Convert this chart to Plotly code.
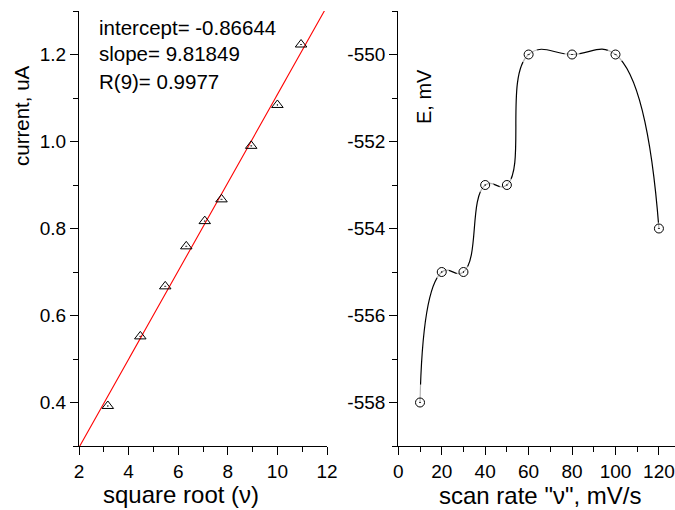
import numpy as np
import plotly.graph_objects as go

# ---- data ----
sqrt_v = [3.162, 4.472, 5.477, 6.325, 7.071, 7.746, 8.944, 10.0, 10.954]
current = [0.392, 0.552, 0.667, 0.759, 0.817, 0.867, 0.990, 1.084, 1.223]

scan_rate = [10, 20, 30, 40, 50, 60, 80, 100, 120]
potential = [-558, -555, -555, -553, -553, -550, -550, -550, -554]

e_ticks = [-558, -556, -554, -552, -550]
e_tick_text = ["-558", "-556", "-554", "-552", "-550"]

fit_text = ["intercept= -0.86644", "slope= 9.81849", "R(9)= 0.9977"]

# style: size of the white gap drawn round each circle on the right panel
gap_sizes = [36, 15, 14, 17, 15, 19, 15, 18, 12]

# linear regression line of the left panel
slope, intercept = np.polyfit(sqrt_v, current, 1)
fit_x = [2.0, 12.0]
fit_y = [intercept + slope * x for x in fit_x]

W, H = 675, 510
FONT = "Liberation Sans, Arial, Helvetica, sans-serif"


def px(x):
    return x / W


def py(y):
    return 1 - y / H


fig = go.Figure()

# left panel
fig.add_trace(go.Scatter(x=fit_x, y=fit_y, mode="lines",
                         line=dict(color="red", width=1.1),
                         xaxis="x", yaxis="y", hoverinfo="skip"))
fig.add_trace(go.Scatter(x=sqrt_v, y=current, mode="markers",
                         marker=dict(symbol="triangle-up-open-dot", size=10,
                                     color="black", line=dict(width=1, color="black")),
                         xaxis="x", yaxis="y", cliponaxis=False))

# right panel
fig.add_trace(go.Scatter(x=scan_rate, y=potential, mode="lines",
                         line=dict(color="black", width=1.2, shape="spline", smoothing=1.3),
                         xaxis="x2", yaxis="y2", hoverinfo="skip"))
fig.add_trace(go.Scatter(x=scan_rate, y=potential, mode="markers",
                         marker=dict(symbol="circle", size=gap_sizes, color="white",
                                     line=dict(width=0)),
                         xaxis="x2", yaxis="y2", hoverinfo="skip", cliponaxis=False))
fig.add_trace(go.Scatter(x=scan_rate, y=potential, mode="markers",
                         marker=dict(symbol="circle-open-dot", size=9, color="black",
                                     line=dict(width=1, color="black")),
                         xaxis="x2", yaxis="y2", cliponaxis=False))

minor_common = dict(ticks="outside", ticklen=5, tickwidth=1.3, tickcolor="black")
axis_common = dict(showline=True, linecolor="black", linewidth=1.3,
                   ticks="outside", ticklen=8, tickwidth=1.3, tickcolor="black",
                   showgrid=False, zeroline=False, mirror=False, automargin=False,
                   layer="above traces",
                   tickfont=dict(family=FONT, size=19, color="black"))

fig.update_layout(
    width=W, height=H,
    margin=dict(l=0, r=0, t=0, b=0),
    paper_bgcolor="white", plot_bgcolor="white",
    showlegend=False,
    xaxis=dict(domain=[px(79), px(327)], range=[2, 12], dtick=2, anchor="y",
               minor=dict(dtick=1, **minor_common), **axis_common),
    yaxis=dict(domain=[py(446), py(11)], range=[0.3, 1.3], dtick=0.2, tick0=0.4,
               tickformat=".1f", anchor="x",
               minor=dict(dtick=0.1, **minor_common), **axis_common),
    xaxis2=dict(domain=[px(398.3), 1.0], range=[0, 127.4], dtick=20, anchor="y2",
                minor=dict(dtick=10, **minor_common), **axis_common),
    yaxis2=dict(domain=[py(446), py(11)], range=[-559, -549],
                tickmode="array", tickvals=e_ticks, ticktext=e_tick_text,
                anchor="x2",
                minor=dict(dtick=1, tick0=-559, **minor_common), **axis_common),
)

ann = []
for i, t in enumerate(fit_text):
    ann.append(dict(text=t, x=px(97), y=py(27 + 27 * i), xref="paper", yref="paper",
                    xanchor="left", yanchor="middle", showarrow=False,
                    font=dict(family=FONT, size=20.5, color="black")))
ann.append(dict(text="current, uA", x=px(22), y=py(115), xref="paper", yref="paper",
                textangle=-90, showarrow=False, xanchor="center", yanchor="middle",
                font=dict(family=FONT, size=20.5, color="black")))
ann.append(dict(text="E, mV", x=px(424), y=py(97), xref="paper", yref="paper",
                textangle=-90, showarrow=False, xanchor="center", yanchor="middle",
                font=dict(family=FONT, size=20, color="black")))
ann.append(dict(text="square root (ν)", x=px(181), y=py(494), xref="paper", yref="paper",
                showarrow=False, xanchor="center", yanchor="middle",
                font=dict(family=FONT, size=24, color="black")))
ann.append(dict(text="scan rate \"ν\", mV/s", x=px(540), y=py(495), xref="paper", yref="paper",
                showarrow=False, xanchor="center", yanchor="middle",
                font=dict(family=FONT, size=24, color="black")))
fig.update_layout(annotations=ann)

fig.write_html("out.html")
